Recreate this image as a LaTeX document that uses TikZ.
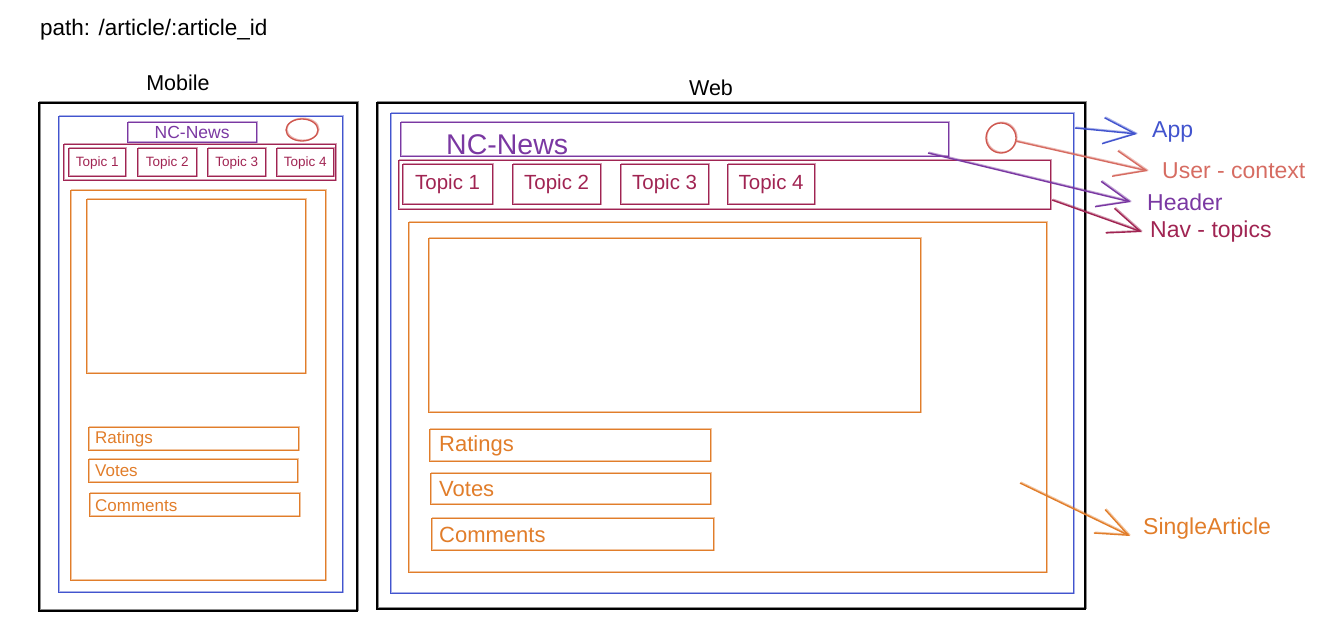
\documentclass[tikz,border=0pt]{standalone}
\usepackage{fontspec}
\setmainfont{Liberation Sans}
\usetikzlibrary{arrows.meta,shapes.geometric}
\definecolor{blueC}{RGB}{66,84,206}
\definecolor{purpleC}{RGB}{122,56,162}
\definecolor{maroonC}{RGB}{160,36,82}
\definecolor{orangeC}{RGB}{225,125,42}
\definecolor{salmonC}{RGB}{214,108,98}
\definecolor{circC}{RGB}{206,86,78}
\begin{document}
\begin{tikzpicture}[x=1pt,y=-1pt,
  sk/.style={postaction={draw,opacity=0.45,transform canvas={shift={(0.9pt,0.8pt)}}}},
  box/.style={draw,line width=1.3pt,rectangle,inner sep=0pt,anchor=north west,sk},
  fs/.style={font=\fontsize{#1}{#1}\selectfont},
  lbl/.style={anchor=west,inner sep=0pt,fs=23},
  conn/.style={line width=1.4pt,-{Straight Barb[length=32pt,width=26pt,line width=1.4pt]},sk}]
\useasboundingbox (0,0) rectangle (1342,632);

% titles
\node[anchor=west,inner sep=0pt,fs=22.5] (path) at (40,30) {path: /article/:article\_id};
\node[inner sep=0pt,fs=21.5] (mlab) at (178,83) {Mobile};
\node[inner sep=0pt,fs=21.5] (wlab) at (711,88) {Web};

% ---------------- Mobile ----------------
\node[box,draw=black,line width=1.6pt,minimum width=318,minimum height=508] (mout) at (38,102) {};
\node[box,draw=blueC,minimum width=284,minimum height=476] (mapp) at (58,116) {};
\node[box,draw=purpleC,minimum width=129,minimum height=20,text=purpleC,fs=17.5] (mhead) at (127,122) {NC-News};
\node[draw=circC,line width=1.3pt,ellipse,minimum width=32,minimum height=22,inner sep=0pt,sk] (mcirc) at (302,130) {};
\node[box,draw=maroonC,minimum width=272,minimum height=36] (mnav) at (63,144) {};
\node[box,draw=maroonC,minimum width=57,minimum height=28,text=maroonC,fs=13.5] (mt1) at (68,148) {Topic 1};
\node[box,draw=maroonC,minimum width=59,minimum height=28,text=maroonC,fs=13.5] (mt2) at (137,148) {Topic 2};
\node[box,draw=maroonC,minimum width=58,minimum height=28,text=maroonC,fs=13.5] (mt3) at (207,148) {Topic 3};
\node[box,draw=maroonC,minimum width=57,minimum height=28,text=maroonC,fs=13.5] (mt4) at (276,148) {Topic 4};
\node[box,draw=orangeC,minimum width=255,minimum height=390] (mart) at (70,190) {};
\node[box,draw=orangeC,minimum width=219,minimum height=174] (mimg) at (86,199) {};
\node[box,draw=orangeC,minimum width=210,minimum height=23] (mrat) at (88,427) {};
\node[box,draw=orangeC,minimum width=209,minimum height=23] (mvot) at (88,459) {};
\node[box,draw=orangeC,minimum width=210,minimum height=23] (mcom) at (89,493) {};
\node[anchor=west,inner sep=0pt,text=orangeC,fs=17] (mratt) at ([xshift=7pt]mrat.west) {Ratings};
\node[anchor=west,inner sep=0pt,text=orangeC,fs=17] (mvott) at ([xshift=7pt]mvot.west) {Votes};
\node[anchor=west,inner sep=0pt,text=orangeC,fs=17] (mcomt) at ([xshift=6pt]mcom.west) {Comments};

% ---------------- Web ----------------
\node[box,draw=black,line width=1.6pt,minimum width=708,minimum height=506] (wout) at (376,102) {};
\node[box,draw=blueC,minimum width=683,minimum height=480] (wapp) at (390,113) {};
\node[box,draw=purpleC,minimum width=548,minimum height=34] (whead) at (400,122) {};
\node[anchor=west,inner sep=0pt,text=purpleC,fs=28.5] (whtxt) at (446,145) {NC-News};
\node[draw=circC,line width=1.3pt,circle,minimum size=30,inner sep=0pt,sk] (wcirc) at (1001,138) {};
\node[box,draw=maroonC,minimum width=652,minimum height=49] (wnav) at (398,160) {};
\node[box,draw=maroonC,minimum width=90,minimum height=40,text=maroonC,fs=20.5] (wt1) at (402,164) {Topic 1};
\node[box,draw=maroonC,minimum width=88,minimum height=40,text=maroonC,fs=20.5] (wt2) at (512,164) {Topic 2};
\node[box,draw=maroonC,minimum width=88,minimum height=40,text=maroonC,fs=20.5] (wt3) at (620,164) {Topic 3};
\node[box,draw=maroonC,minimum width=87,minimum height=40,text=maroonC,fs=20.5] (wt4) at (727,164) {Topic 4};
\node[box,draw=orangeC,minimum width=638,minimum height=350] (wart) at (408,222) {};
\node[box,draw=orangeC,minimum width=492,minimum height=174] (wimg) at (428,238) {};
\node[box,draw=orangeC,minimum width=281,minimum height=32] (wrat) at (429,429) {};
\node[box,draw=orangeC,minimum width=280,minimum height=31] (wvot) at (430,473) {};
\node[box,draw=orangeC,minimum width=282,minimum height=32] (wcom) at (431,518) {};
\node[anchor=west,inner sep=0pt,text=orangeC,fs=22] (wratt) at ([xshift=10pt]wrat.west) {Ratings};
\node[anchor=west,inner sep=0pt,text=orangeC,fs=22] (wvott) at ([xshift=9pt]wvot.west) {Votes};
\node[anchor=west,inner sep=0pt,text=orangeC,fs=22] (wcomt) at ([xshift=8pt]wcom.west) {Comments};

% ---------------- labels ----------------
\node[lbl,text=blueC] (app) at (1152,132) {App};
\node[lbl,text=salmonC] (user) at (1162,171) {User - context};
\node[lbl,text=purpleC] (header) at (1147,202) {Header};
\node[lbl,text=maroonC] (nav) at (1150,232) {Nav - topics};
\node[lbl,text=orangeC] (single) at (1143,529) {SingleArticle};

% connector start points
\coordinate (appS) at (1075,128);
\coordinate (userS) at (1015,141);
\coordinate (headS) at (928,153);
\coordinate (navS) at (1052,200);
\coordinate (artS) at (1020,483);

\draw[conn,draw=blueC] (appS) -- ([xshift=-15pt,yshift=-2pt]app.west);
\draw[conn,draw=salmonC] (userS) -- ([xshift=-14pt]user.west);
\draw[conn,draw=purpleC] (headS) -- ([xshift=-16pt]header.west);
\draw[conn,draw=maroonC] (navS) -- ([xshift=-8pt]nav.west);
\draw[conn,draw=orangeC] (artS) -- ([xshift=-13pt,yshift=-7pt]single.west);
\end{tikzpicture}
\end{document}
